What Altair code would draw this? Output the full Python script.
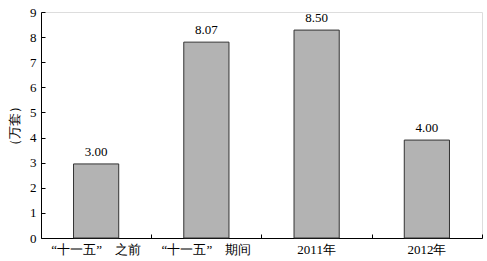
import altair as alt
import pandas as pd

categories = ["“十一五”\u3000之前", "“十一五”\u3000期间", "2011年", "2012年"]
bar_values = [2.95, 7.8, 8.28, 3.9]
value_labels = ["3.00", "8.07", "8.50", "4.00"]

df = pd.DataFrame({"cat": categories, "v": bar_values, "lab": value_labels})

FONT = "Liberation Serif"

xscale = alt.Scale(paddingInner=0.59, paddingOuter=0.295)
yscale = alt.Scale(domain=[0, 9], nice=False)

bars = alt.Chart(df).mark_bar(color="#b3b3b3", stroke="#333333", strokeWidth=1).encode(
    x=alt.X("cat:N", sort=categories, scale=xscale,
            axis=alt.Axis(title=None, labelAngle=0, ticks=False, labelPadding=5,
                          domainColor="black", labelColor="black", labelFontSize=13,
                          labelFont=FONT)),
    y=alt.Y("v:Q", scale=yscale,
            axis=alt.Axis(title="（万套）", values=list(range(10)), ticks=False,
                          labelPadding=5, grid=False, domainColor="black",
                          labelColor="black", labelFontSize=13, labelFont=FONT,
                          titleFont=FONT, titleFontSize=13, titleFontWeight="normal",
                          titleColor="black", titlePadding=8)),
)

labels = alt.Chart(df).mark_text(baseline="bottom", dy=-5, fontSize=13, font=FONT, color="black").encode(
    x=alt.X("cat:N", sort=categories, scale=xscale,
            axis=alt.Axis(orient="top", offset=-226, labels=False, domain=False, title=None,
                          tickOffset=55.125, tickSize=4, tickColor="black", zindex=1)),
    y=alt.Y("v:Q", scale=yscale,
            axis=alt.Axis(orient="right", offset=-441, labels=False, domain=False, title=None,
                          values=list(range(10)), tickSize=4, tickColor="black", grid=False)),
    text="lab:N",
)

chart = alt.layer(bars, labels).resolve_axis(x="independent", y="independent").properties(
    width=441, height=226, autosize="none",
    padding={"left": 41, "top": 12, "right": 5, "bottom": 23},
).configure_view(stroke="black", strokeWidth=1).configure(background="white", font=FONT)

chart.save("out.html", embed_options={"renderer": "svg", "actions": False})
